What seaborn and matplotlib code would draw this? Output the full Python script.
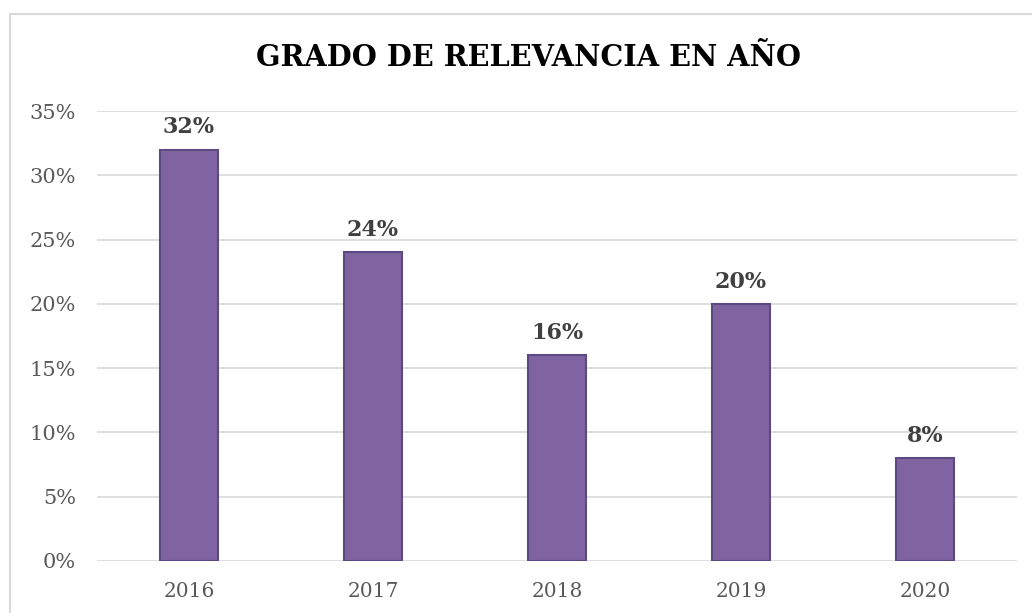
import matplotlib
matplotlib.use('Agg')
import matplotlib.pyplot as plt
from matplotlib.patches import Rectangle
from matplotlib.ticker import FuncFormatter, MultipleLocator
import seaborn as sns
import pandas as pd

years = ['2016', '2017', '2018', '2019', '2020']
relevance = [32, 24, 16, 20, 8]

sns.set_style('white')
plt.rcParams['font.family'] = ['DejaVu Serif']

df = pd.DataFrame({'year': years, 'pct': relevance})

fig = plt.figure(figsize=(10.32, 6.13), dpi=100)
ax = fig.add_axes([97/1032, 1-561/613, (1017-97)/1032, (561-111)/613])

# chart border like the office frame
fig.patches.append(Rectangle((10/1032, -0.05), 1.1, 1.05-14/613, transform=fig.transFigure,
                             fill=False, edgecolor='#D9D9D9', linewidth=1.5))

sns.barplot(data=df, x='year', y='pct', color='#8064A2', width=0.32,
            edgecolor='#5E4A82', linewidth=1.5, saturation=1, ax=ax, zorder=3)

ax.set_ylim(0, 35)
ax.yaxis.set_major_locator(MultipleLocator(5))
ax.yaxis.set_major_formatter(FuncFormatter(lambda v, p: f'{v:.0f}%'))
ax.grid(axis='y', color='#D9D9D9', linewidth=1.2, zorder=0)
ax.set_axisbelow(True)
for s in ax.spines.values():
    s.set_visible(False)
ax.set_xlabel('')
ax.set_ylabel('')
ax.tick_params(axis='both', length=0, labelsize=15, labelcolor='#595959')
ax.tick_params(axis='x', labelsize=14.5, pad=15)
ax.tick_params(axis='y', pad=15)

for i, v in enumerate(relevance):
    ax.annotate(f'{v}%', (i, v), xytext=(0, 8), textcoords='offset points',
                ha='center', va='bottom', fontsize=16, fontweight='bold', color='#404040')

fig.text(529/1032, 1-58/613, 'GRADO DE RELEVANCIA EN AÑO', ha='center', va='center',
         fontsize=20.7, fontweight='bold', color='#000000')

fig.savefig('out.png', dpi=100, facecolor='white')
